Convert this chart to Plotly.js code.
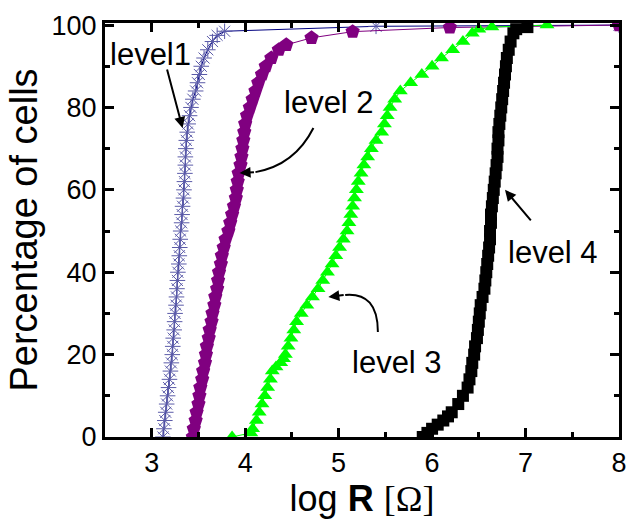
<!DOCTYPE html>
<html>
<head>
<meta charset="utf-8">
<script src="https://cdn.plot.ly/plotly-3.0.1.min.js"></script>
<style>html,body{margin:0;padding:0;background:#fff;}#chart{width:628px;height:521px;}</style>
</head>
<body>
<div id="chart"></div>
<script>
// level 1 (log R vs cumulative percentage)
var level1X = [3.12,3.13,3.14,3.15,3.16,3.17,3.18,3.19,3.2,3.21,3.22,3.225,3.23,3.24,3.245,3.25,3.26,3.265,3.27,3.275,3.28,3.29,3.295,3.3,3.305,3.31,3.32,3.325,3.33,3.34,3.345,3.35,3.355,3.36,3.36,3.365,3.37,3.38,3.39,3.405,3.42,3.44,3.47,3.49,3.51,3.53,3.56,3.6,3.65,3.7,3.78,5.4,8];
var level1Y = [0,2,4,6,8,10,12,14,16,18,20,22,24,26,28,30,32,34,36,38,40,42,44,46,48,50,52,54,56,58,60,62,64,66,68,70,72,74,76,78,80,82,84,86,88,90,92,94,96,97.5,98.5,99.7,100];

var level2X = [3.44,3.45,3.47,3.48,3.5,3.51,3.52,3.54,3.55,3.57,3.58,3.59,3.61,3.62,3.64,3.65,3.67,3.68,3.7,3.71,3.72,3.74,3.75,3.77,3.79,3.82,3.84,3.86,3.88,3.9,3.91,3.92,3.93,3.95,3.96,3.97,3.98,3.99,4.0,4.02,4.05,4.08,4.11,4.14,4.18,4.22,4.28,4.36,4.44,4.71,5.15,6.19,8];
var level2Y = [0,2,4,6,8,10,12,14,16,18,20,22,24,26,28,30,32,34,36,38,40,42,44,46,48,50,52,54,56,58,60,62,64,66,68,70,72,74,76,78,80,82,84,86,88,90,92,94,95.2,96.9,98.4,99.4,100];

var level3X = [3.86,4.06,4.08,4.12,4.15,4.18,4.21,4.24,4.27,4.29,4.33,4.38,4.41,4.43,4.46,4.49,4.52,4.55,4.6,4.66,4.72,4.78,4.83,4.88,4.93,4.97,5.01,5.05,5.09,5.11,5.13,5.15,5.17,5.19,5.21,5.24,5.27,5.31,5.35,5.4,5.46,5.49,5.52,5.55,5.6,5.66,5.77,5.89,6.0,6.1,6.22,6.33,6.43,6.5,6.64,7.23];
var level3Y = [0,1,2,4,6,8,10,12,14,16,17,18,19,20,22,24,26,28,30,32,34,36,38,40,42,44,46,48,50,52,54,56,58,60,62,64,66,68,70,72,74,76,78,80,82,84,86,88,90,92,94,96,98,99,99.5,100];

var level4X = [5.9,5.95,6.0,6.06,6.12,6.17,6.21,6.28,6.33,6.38,6.4,6.42,6.43,6.45,6.46,6.48,6.49,6.5,6.51,6.52,6.54,6.56,6.57,6.58,6.59,6.6,6.61,6.62,6.62,6.63,6.63,6.64,6.65,6.66,6.67,6.68,6.69,6.7,6.7,6.71,6.71,6.72,6.73,6.74,6.75,6.76,6.77,6.78,6.79,6.8,6.82,6.84,6.87,6.9,7.02];
var level4Y = [0,1,2,3,4,5,6,8,10,12,14,16,18,20,22,24,26,28,30,32,34,36,38,40,42,44,46,48,50,52,54,56,58,60,62,64,66,68,70,72,74,76,78,80,82,84,86,88,90,92,94,96,98,99,99.5];

var seriesNames = ['level1','level 2','level 3','level 4'];
var xTicks = [3,4,5,6,7,8];
var yTicks = [0,20,40,60,80,100];

var FONT = 'Liberation Sans, Arial, sans-serif';

var traces = [
  {x: level1X, y: level1Y, name: seriesNames[0], type: 'scatter', mode: 'lines+markers',
   line: {color: '#000080', width: 1},
   marker: {symbol: 'asterisk-open', size: 13, color: '#5a5aa8', line: {width: 1, color: '#5a5aa8'}}},
  {x: level2X, y: level2Y, name: seriesNames[1], type: 'scatter', mode: 'lines+markers',
   line: {color: '#800080', width: 1},
   marker: {symbol: 'pentagon', size: 15, color: '#800080'}},
  {x: level3X, y: level3Y, name: seriesNames[2], type: 'scatter', mode: 'lines+markers',
   line: {color: '#00ff00', width: 1},
   marker: {symbol: 'triangle-up', size: 13, color: '#00ff00'}},
  {x: level4X, y: level4Y, name: seriesNames[3], type: 'scatter', mode: 'lines+markers',
   line: {color: '#000000', width: 1},
   marker: {symbol: 'square', size: 12, color: '#000000'}}
];

function label(t, x, y) {
  return {text: t, x: x, y: y, xref: 'x', yref: 'y', showarrow: false,
          xanchor: 'center', yanchor: 'middle', font: {family: FONT, size: 31, color: '#000'}};
}
function arrow(tx, ty, hx, hy) {
  return {text: '', x: hx, y: hy, xref: 'x', yref: 'y', axref: 'x', ayref: 'y', ax: tx, ay: ty,
          showarrow: true, arrowhead: 2, arrowsize: 1.1, arrowwidth: 2, arrowcolor: '#000', standoff: 0, startstandoff: 0};
}

var layout = {
  width: 628, height: 521,
  margin: {l: 105, r: 9, t: 23, b: 84},
  paper_bgcolor: '#fff', plot_bgcolor: '#fff',
  showlegend: false,
  font: {family: FONT, color: '#000'},
  xaxis: {
    range: [2.5, 8], tickvals: xTicks, ticktext: xTicks.map(String),
    showgrid: false, zeroline: false,
    showline: true, linewidth: 3, linecolor: '#000', mirror: 'allticks',
    ticks: 'inside', ticklen: 9, tickwidth: 3, tickcolor: '#000',
    minor: {ticks: 'inside', dtick: 0.5, tick0: 0, ticklen: 5, tickwidth: 3, tickcolor: '#000', showgrid: false},
    tickfont: {family: FONT, size: 27, color: '#000'},
    title: {text: 'log <b>R</b> <span style="font-family:Liberation Serif, Times New Roman, serif">[Ω]</span>',
            font: {family: FONT, size: 36, color: '#000'}, standoff: 4}
  },
  yaxis: {
    range: [0, 100.5], tickvals: yTicks, ticktext: yTicks.map(String),
    showgrid: false, zeroline: false,
    showline: true, linewidth: 3, linecolor: '#000', mirror: 'allticks',
    ticks: 'inside', ticklen: 9, tickwidth: 3, tickcolor: '#000',
    minor: {ticks: 'inside', dtick: 10, tick0: 0, ticklen: 5, tickwidth: 3, tickcolor: '#000', showgrid: false},
    tickfont: {family: FONT, size: 27, color: '#000'},
    title: {text: 'Percentage of cells', font: {family: FONT, size: 38, color: '#000'}, standoff: 3}
  },
  shapes: [
    {type: 'path', xref: 'x', yref: 'y', path: 'M 4.73 75.0 Q 4.53 66.0 4.11 64.3', line: {color: '#000', width: 2}},
    {type: 'path', xref: 'x', yref: 'y', path: 'M 5.42 25.5 Q 5.42 35.2 5.07 34.5', line: {color: '#000', width: 2}}
  ],
  annotations: [
    label('level1', 2.99, 92.8),
    label('level 2', 4.9, 81.3),
    label('level 3', 5.62, 18.2),
    label('level 4', 7.29, 44.7),
    arrow(3.16, 89.6, 3.33, 75.0),
    arrow(4.11, 64.3, 3.94, 64.1),
    arrow(5.07, 34.5, 4.89, 34.0),
    arrow(7.07, 52.2, 6.78, 60.0)
  ]
};

Plotly.newPlot('chart', traces, layout, {displayModeBar: false, staticPlot: true});
</script>
</body>
</html>
